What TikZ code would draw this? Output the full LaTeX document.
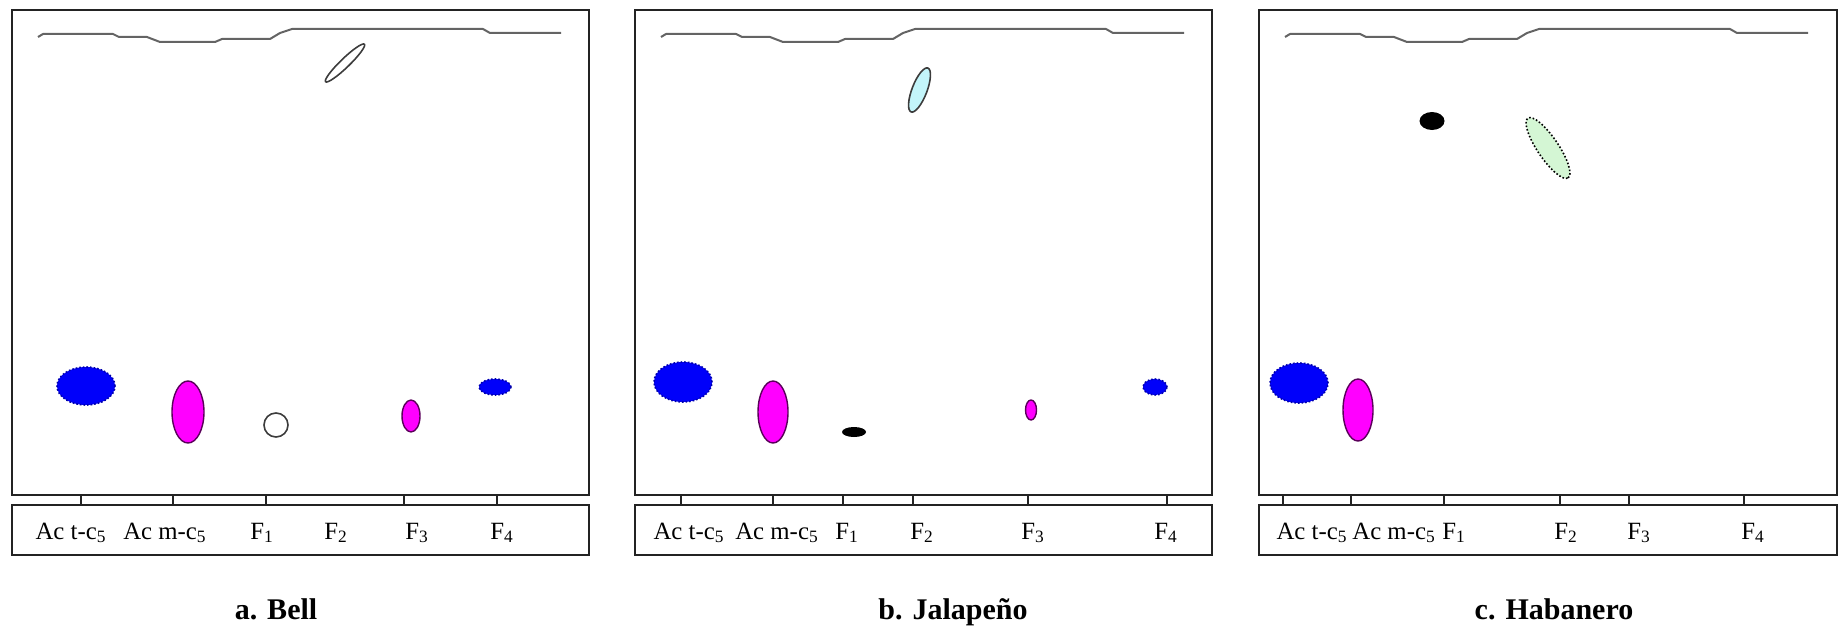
\documentclass[tikz,border=0pt]{standalone}
\usepackage{fontspec}
\setmainfont{Liberation Serif}
\usetikzlibrary{shapes.geometric}
\definecolor{framecol}{RGB}{35,35,35}
\definecolor{frontcol}{RGB}{100,100,100}
\definecolor{spotblue}{RGB}{0,0,250}
\definecolor{spotblueedge}{RGB}{0,0,170}
\definecolor{spotmag}{RGB}{255,0,255}
\definecolor{spotmagedge}{RGB}{90,0,90}
\definecolor{spotcyan}{RGB}{195,245,250}
\definecolor{spotgreen}{RGB}{212,246,212}
\definecolor{edgegray}{RGB}{60,60,60}
\tikzset{
  frame/.style={draw=framecol, line width=1pt},
  front/.style={draw=frontcol, line width=1pt, line join=round},
  lbl/.style={anchor=base, inner sep=0pt, font=\fontsize{12.4pt}{14pt}\selectfont},
  captext/.style={anchor=base, inner sep=0pt, font=\bfseries\fontsize{15pt}{17pt}\selectfont},
  spot/.style={ellipse, inner sep=0pt, outer sep=0pt},
  bluespot/.style={spot, fill=spotblue, draw=spotblueedge, densely dotted, line width=0.8pt},
  magspot/.style={spot, fill=spotmag, draw=spotmagedge, line width=0.7pt},
  blackspot/.style={spot, fill=black},
  whitespot/.style={spot, fill=white, draw=edgegray, line width=0.8pt},
  cyanspot/.style={spot, fill=spotcyan, draw=edgegray, line width=0.8pt},
  greenspot/.style={spot, fill=spotgreen, draw=black, densely dotted, line width=0.8pt},
  frontline/.pic={
    \draw[front] (38,37) -- (43,34) -- (113,34) -- (119,37) -- (147,37) -- (160,42)
      -- (215,42) -- (222,39) -- (270,39) -- (280,33) -- (292,29) -- (483,29)
      -- (490,33) -- (561,33);
  }
}
\begin{document}
\begin{tikzpicture}[x=0.5pt,y=-0.5pt]
\useasboundingbox (0,0) rectangle (1839,626);

% ---------------- panel a ----------------
\draw[frame] (12,10) rectangle (589,495);
\draw[frame] (12,505) rectangle (589,555);
\foreach \t in {81,173,266,404,497} \draw[frame] (\t,495) -- (\t,505);
\pic at (0,0) {frontline};
\node[bluespot, minimum width=29pt, minimum height=19pt] (aAct) at (86,386) {};
\node[magspot, minimum width=16pt, minimum height=31pt] (aAcm) at (188,412) {};
\node[whitespot, minimum width=12pt, minimum height=12pt] (aF1) at (276,425) {};
\node[magspot, minimum width=9pt, minimum height=16pt] (aF3) at (411,416) {};
\node[bluespot, minimum width=16pt, minimum height=8pt] (aF4) at (495,387) {};
\node[whitespot, minimum width=27pt, minimum height=4.5pt, rotate=44] (aTop) at (345,63) {};
\node[lbl] (aLAct) at (71,539) {Ac t-c\textsubscript{5}};
\node[lbl] (aLAcm) at (165,539) {Ac m-c\textsubscript{5}};
\node[lbl] (aLF1) at (262,539) {F\textsubscript{1}};
\node[lbl] (aLF2) at (336,539) {F\textsubscript{2}};
\node[lbl] (aLF3) at (417,539) {F\textsubscript{3}};
\node[lbl] (aLF4) at (502,539) {F\textsubscript{4}};
\node[captext] (aCap) at (276,619) {a. Bell};

% ---------------- panel b ----------------
\draw[frame] (635,10) rectangle (1212,495);
\draw[frame] (635,505) rectangle (1212,555);
\foreach \t in {681,773,843,913,1028,1167} \draw[frame] (\t,495) -- (\t,505);
\pic at (623,0) {frontline};
\node[bluespot, minimum width=29pt, minimum height=20pt] (bAct) at (683,382) {};
\node[magspot, minimum width=15pt, minimum height=31pt] (bAcm) at (773,412) {};
\node[blackspot, minimum width=12pt, minimum height=5pt] (bF1) at (854,432) {};
\node[magspot, minimum width=5.5pt, minimum height=10pt] (bF3) at (1031,410) {};
\node[bluespot, minimum width=12pt, minimum height=8pt] (bF4) at (1155,387) {};
\node[cyanspot, minimum width=23.5pt, minimum height=7.5pt, rotate=69] (bTop) at (919.5,90) {};
\node[lbl] (bLAct) at (689,539) {Ac t-c\textsubscript{5}};
\node[lbl] (bLAcm) at (777,539) {Ac m-c\textsubscript{5}};
\node[lbl] (bLF1) at (847,539) {F\textsubscript{1}};
\node[lbl] (bLF2) at (922,539) {F\textsubscript{2}};
\node[lbl] (bLF3) at (1033,539) {F\textsubscript{3}};
\node[lbl] (bLF4) at (1166,539) {F\textsubscript{4}};
\node[captext] (bCap) at (953,619) {b. Jalapeño};

% ---------------- panel c ----------------
\draw[frame] (1259,10) rectangle (1837,495);
\draw[frame] (1259,505) rectangle (1837,555);
\foreach \t in {1283,1351,1444,1560,1629,1744} \draw[frame] (\t,495) -- (\t,505);
\pic at (1247,0) {frontline};
\node[bluespot, minimum width=29pt, minimum height=20pt] (cAct) at (1299,383) {};
\node[magspot, minimum width=15pt, minimum height=31pt] (cAcm) at (1358,410) {};
\node[blackspot, minimum width=12.5pt, minimum height=9pt] (cTop) at (1432,121) {};
\node[greenspot, minimum width=36pt, minimum height=10.5pt, rotate=-56] (cF2) at (1548,148) {};
\node[lbl] (cLAct) at (1312,539) {Ac t-c\textsubscript{5}};
\node[lbl] (cLAcm) at (1394,539) {Ac m-c\textsubscript{5}};
\node[lbl] (cLF1) at (1454,539) {F\textsubscript{1}};
\node[lbl] (cLF2) at (1566,539) {F\textsubscript{2}};
\node[lbl] (cLF3) at (1639,539) {F\textsubscript{3}};
\node[lbl] (cLF4) at (1753,539) {F\textsubscript{4}};
\node[captext] (cCap) at (1554,619) {c. Habanero};
\end{tikzpicture}
\end{document}
